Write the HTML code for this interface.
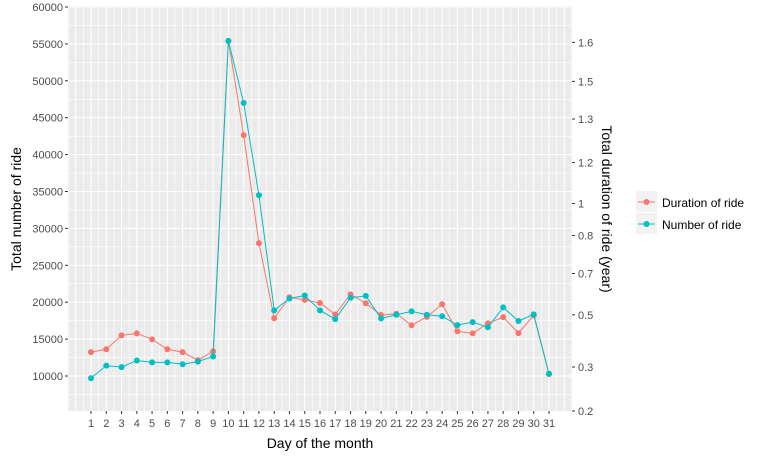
<!DOCTYPE html>
<html><head><meta charset="utf-8"><style>
body{margin:0;background:#fff;font-family:"Liberation Sans",sans-serif}
svg text{font-family:"Liberation Sans",sans-serif}
</style></head><body>
<svg id="chart" width="760" height="459" xmlns="http://www.w3.org/2000/svg">
<rect x="0" y="0" width="760" height="459" fill="#fff"/>
<g id="grid"></g><g id="marks"></g><g id="axes"></g>
<text x="320" y="448" font-size="14" text-anchor="middle" fill="#000">Day of the month</text>
<text transform="translate(21,209) rotate(-90)" font-size="14" text-anchor="middle" fill="#000">Total number of ride</text>
<text transform="translate(602,209) rotate(90)" font-size="14" text-anchor="middle" fill="#000">Total duration of ride (year)</text>
<g>
<g>
<rect x="636" y="191" width="21" height="21" fill="#F2F2F2"/>
<line x1="638" y1="202" x2="655" y2="202" stroke="#F8766D" stroke-width="1"/>
<circle cx="646.5" cy="202" r="3" fill="#F8766D"/>
<text x="662" y="207" font-size="12" fill="#000">Duration of ride</text></g>
<g>
<rect x="636" y="213" width="21" height="21" fill="#F2F2F2"/>
<line x1="638" y1="224" x2="655" y2="224" stroke="#00BFC4" stroke-width="1"/>
<circle cx="646.5" cy="224" r="3" fill="#00BFC4"/>
<text x="662" y="229" font-size="12" fill="#000">Number of ride</text></g>
</g>
</svg>
<script>
const days=[1,2,3,4,5,6,7,8,9,10,11,12,13,14,15,16,17,18,19,20,21,22,23,24,25,26,27,28,29,30,31];
const rides=[9700,11400,11200,12100,11850,11850,11600,11950,12650,55400,47000,34500,18900,20500,20900,18900,17700,20600,20850,17800,18300,18750,18300,18100,16900,17300,16600,19300,17450,18350,10300];
const duration=[0.357,0.368,0.421,0.429,0.406,0.368,0.357,0.326,0.360,1.604,1.263,0.780,0.487,0.585,0.572,0.557,0.502,0.599,0.556,0.499,0.505,0.460,0.492,0.551,0.437,0.429,0.467,0.491,0.430,0.498,0.284];
const leftTicks=[10000,15000,20000,25000,30000,35000,40000,45000,50000,55000,60000];
const rightTickLabels=[1.6,1.5,1.3,1.2,1,0.8,0.7,0.5,0.3,0.2];
const rightTickPos=[42.4,81.4,119,162.6,203.5,235.5,273.5,314.8,367,411];
const NS="http://www.w3.org/2000/svg";
const P={l:68,r:572,t:6,b:411};
const x=d=>91+(d-1)*(549-91)/30;
const yL=v=>376-(v-10000)*(376-7)/50000;
function yR(v){for(let i=0;i<rightTickLabels.length-1;i++){const a=rightTickLabels[i],b=rightTickLabels[i+1];if(v<=a&&v>=b||i===rightTickLabels.length-2||(i===0&&v>a)){return rightTickPos[i]+(a-v)/(a-b)*(rightTickPos[i+1]-rightTickPos[i]);}}}
function mk(t,a,p){const e=document.createElementNS(NS,t);for(const k in a)e.setAttribute(k,a[k]);(p||document.getElementById('marks')).appendChild(e);return e;}
const grid=document.getElementById('grid'),axes=document.getElementById('axes');
const bg=mk('rect',{x:P.l,y:P.t,width:P.r-P.l,height:P.b-P.t,fill:'#EBEBEB'},grid);


for(let v=2500;v<=60000;v+=2500){const y=yL(v);if(y<P.t||y>P.b)continue;mk('line',{x1:P.l,x2:P.r,y1:y,y2:y,stroke:'#fff','stroke-width':v%5000?0.6:1.1},grid);}
for(let d=-1;d<=33;d+=0.5){const xx=x(d);if(xx<P.l||xx>P.r)continue;mk('line',{x1:xx,x2:xx,y1:P.t,y2:P.b,stroke:'#fff','stroke-width':d%1?0.6:1.1},grid);}
leftTicks.forEach(v=>{const y=yL(v);mk('line',{x1:P.l-3,x2:P.l,y1:y,y2:y,stroke:'#333'},axes);const t=mk('text',{x:P.l-5,y:y+4,'font-size':11,'text-anchor':'end',fill:'#4D4D4D'},axes);t.textContent=v;

});
rightTickLabels.forEach((v,i)=>{const y=rightTickPos[i];mk('line',{x1:P.r,x2:P.r+3,y1:y,y2:y,stroke:'#333'},axes);const t=mk('text',{x:P.r+6,y:y+4,'font-size':11,fill:'#4D4D4D'},axes);t.textContent=v;

});
days.forEach(d=>{mk('line',{x1:x(d),x2:x(d),y1:P.b,y2:P.b+3,stroke:'#333'},axes);const t=mk('text',{x:x(d),y:P.b+16,'font-size':11,'text-anchor':'middle',fill:'#4D4D4D'},axes);t.textContent=d;

});
function series(vals,yf,col,name){
const pl=mk('polyline',{points:vals.map((v,i)=>x(days[i])+','+yf(v)).join(' '),fill:'none',stroke:col,'stroke-width':1});


vals.forEach((v,i)=>{const c=mk('circle',{cx:x(days[i]),cy:yf(v),r:3,fill:col});

});}
series(duration,yR,'#F8766D','duration');
series(rides,yL,'#00BFC4','rides');
</script>
</body></html>
